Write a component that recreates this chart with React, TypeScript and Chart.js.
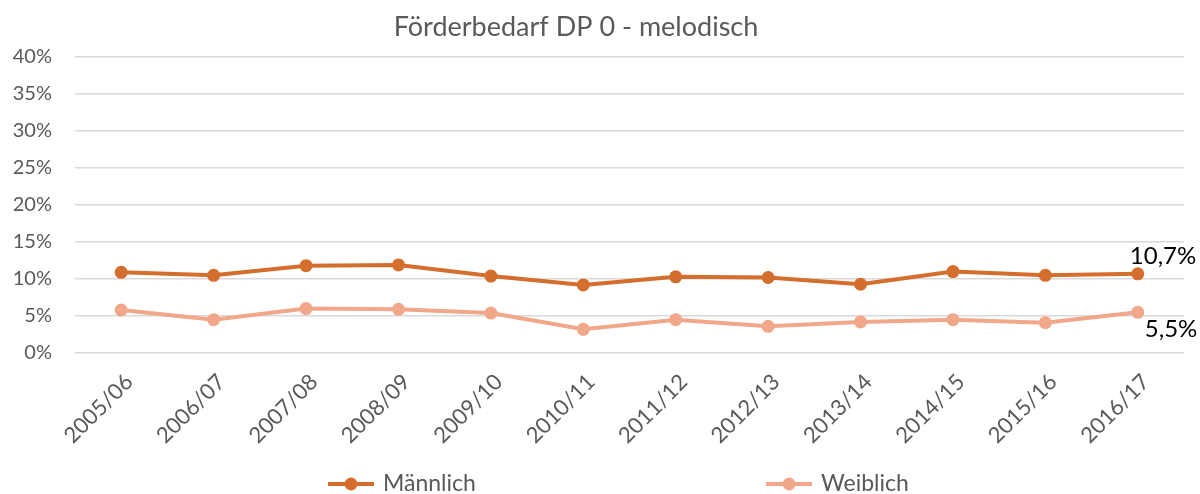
import React, { useEffect, useRef } from "react";
import { Chart, registerables } from "chart.js";

Chart.register(...registerables);

const TITLE = "Förderbedarf DP 0 - melodisch";
const categories = ["2005/06", "2006/07", "2007/08", "2008/09", "2009/10", "2010/11", "2011/12", "2012/13", "2013/14", "2014/15", "2015/16", "2016/17"];
const maennlich = [10.9, 10.5, 11.8, 11.9, 10.4, 9.2, 10.3, 10.2, 9.3, 11.0, 10.5, 10.7];
const weiblich = [5.8, 4.5, 6.0, 5.9, 5.4, 3.2, 4.5, 3.6, 4.2, 4.5, 4.1, 5.5];
const seriesNames = ["Männlich", "Weiblich"];
const seriesColors = ["#D46E2C", "#F1A88A"];
const yTicks = [0, 5, 10, 15, 20, 25, 30, 35, 40];

const FONT = "Lato, 'Open Sans', sans-serif";
const GRAY = "#595959";

const fmt = (v: number) => v.toFixed(1).replace(".", ",") + "%";

const titlePlugin = {
  id: "customTitle",
  afterDraw(chart: any) {
    const ctx = chart.ctx;
    ctx.save();
    ctx.font = `27px ${FONT}`;
    ctx.fillStyle = GRAY;
    ctx.textAlign = "center";
    ctx.textBaseline = "middle";
    ctx.fillText(TITLE, 576, 27);
    ctx.restore();
  },
};

const lastLabelPlugin = {
  id: "lastLabels",
  afterDatasetsDraw(chart: any) {
    const ctx = chart.ctx;
    ctx.save();
    ctx.font = `24px ${FONT}`;
    ctx.fillStyle = "#000";
    ctx.textBaseline = "middle";
    ctx.textAlign = "left";
    chart.data.datasets.forEach((ds: any, i: number) => {
      const meta = chart.getDatasetMeta(i);
      const n = ds.data.length - 1;
      const pt = meta.data[n];
      const text = fmt(ds.data[n]);
      if (i === 0) ctx.fillText(text, pt.x - 8, pt.y - 18);
      else ctx.fillText(text, pt.x + 7, pt.y + 17);
    });
    ctx.restore();
  },
};

const legendPlugin = {
  id: "customLegend",
  afterDraw(chart: any) {
    const ctx = chart.ctx;
    ctx.save();
    ctx.font = `23px ${FONT}`;
    ctx.textBaseline = "middle";
    const y = 484;
    const starts = [328, 766];
    chart.data.datasets.forEach((ds: any, i: number) => {
      const x0 = starts[i];
      ctx.strokeStyle = ds.borderColor;
      ctx.lineWidth = 4;
      ctx.beginPath();
      ctx.moveTo(x0, y);
      ctx.lineTo(x0 + 46, y);
      ctx.stroke();
      ctx.fillStyle = ds.borderColor;
      ctx.beginPath();
      ctx.arc(x0 + 23, y, 6.5, 0, Math.PI * 2);
      ctx.fill();
      ctx.fillStyle = GRAY;
      ctx.textAlign = "left";
      ctx.fillText(ds.label, x0 + 55, y);
    });
    ctx.restore();
  },
};

export default function App() {
  const ref = useRef<HTMLCanvasElement>(null);
  useEffect(() => {
    if (!ref.current) return;
    const chart = new Chart(ref.current, {
      type: "line",
      data: {
        labels: categories,
        datasets: [maennlich, weiblich].map((d, i) => ({
          label: seriesNames[i],
          data: d,
          borderColor: seriesColors[i],
          backgroundColor: seriesColors[i],
          pointBackgroundColor: seriesColors[i],
          pointBorderColor: seriesColors[i],
          borderWidth: 4,
          pointRadius: 6.5,
          pointBorderWidth: 0,
          tension: 0,
        })),
      },
      options: {
        animation: false,
        responsive: true,
        maintainAspectRatio: false,
        layout: { padding: { left: 0, right: 16, top: 57, bottom: 0 } },
        plugins: {
          legend: { display: false },
          tooltip: { enabled: false },
          title: { display: false },
        },
        scales: {
          x: {
            offset: true,
            grid: { display: false },
            border: { display: false },
            ticks: {
              color: GRAY,
              font: { family: FONT, size: 22 },
              minRotation: 45,
              maxRotation: 45,
              padding: 8,
              labelOffset: 8,
            },
            afterFit: (s: any) => {
              s.height = 141;
            },
          },
          y: {
            min: 0,
            max: 40,
            afterBuildTicks: (s: any) => {
              s.ticks = yTicks.map((v) => ({ value: v }));
            },
            grid: { color: "#D9D9D9", lineWidth: 1.5, drawTicks: false },
            border: { display: false },
            ticks: {
              color: GRAY,
              font: { family: FONT, size: 20 },
              padding: 23,
              callback: (v: any) => v + "%",
            },
            afterFit: (s: any) => {
              s.width = 75;
            },
          },
        },
      },
      plugins: [titlePlugin, lastLabelPlugin, legendPlugin],
    });
    return () => chart.destroy();
  }, []);
  return (
    <div style={{ position: "fixed", left: 0, top: 0, width: 1200, height: 494 }}>
      <canvas ref={ref} />
    </div>
  );
}
